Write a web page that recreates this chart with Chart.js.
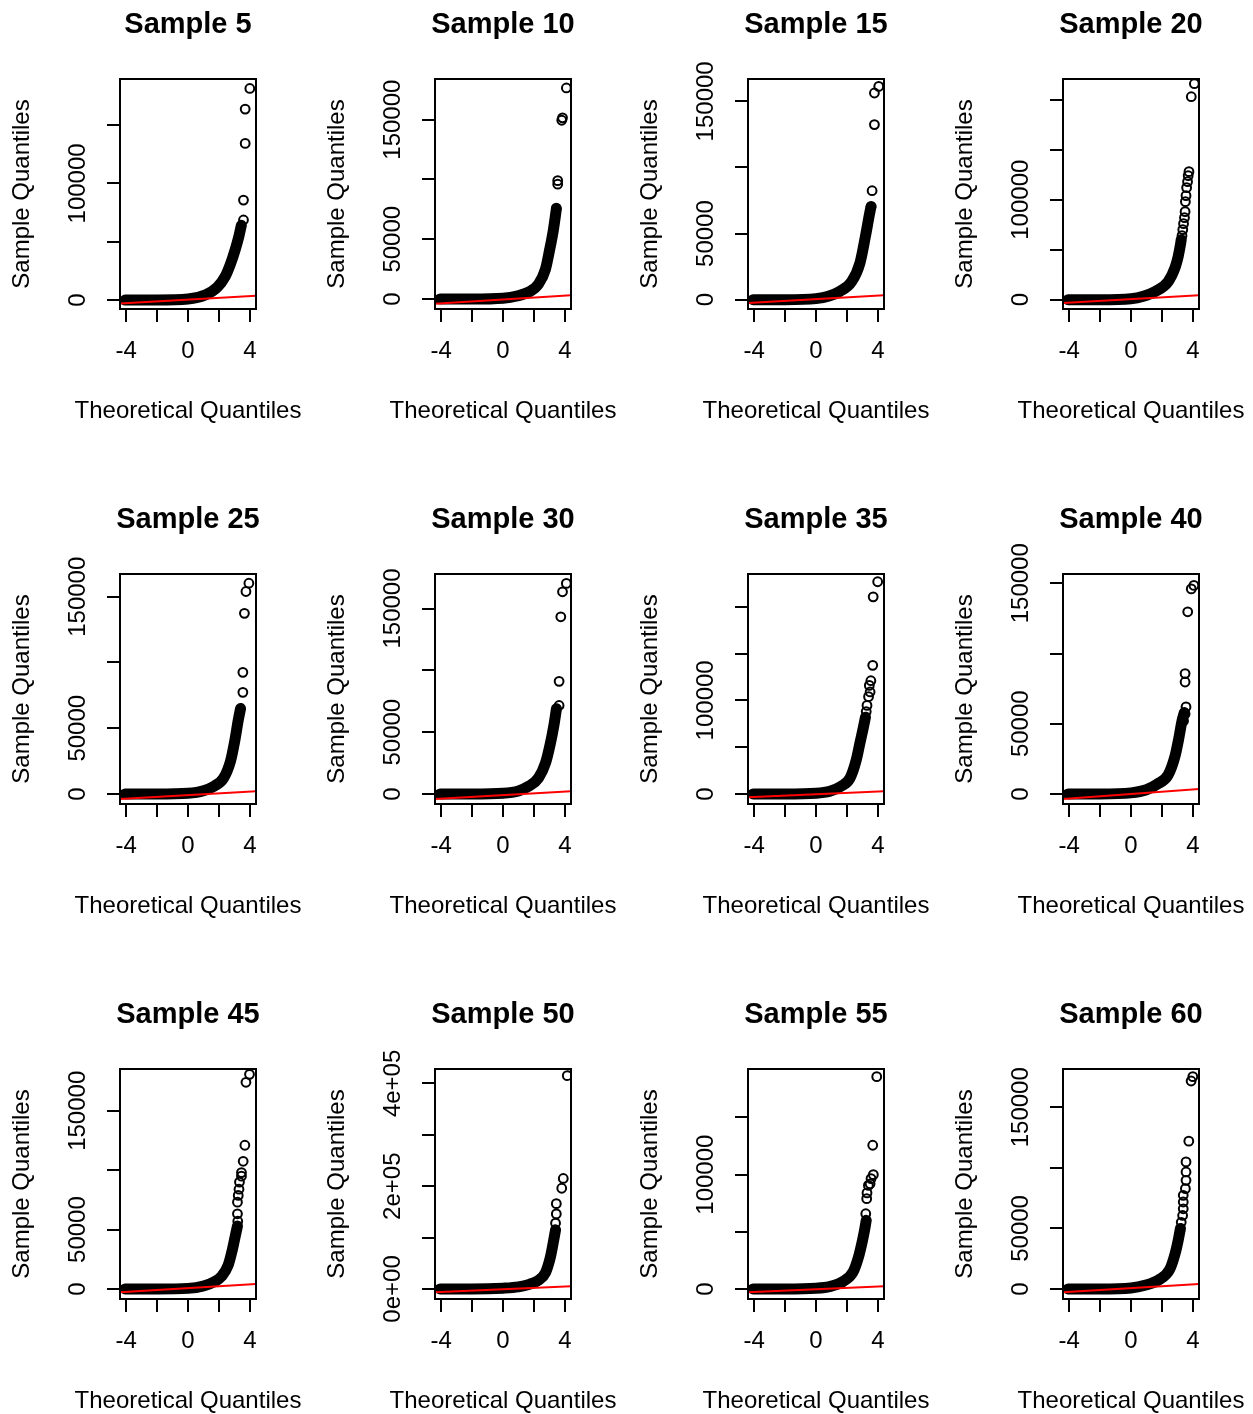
<!DOCTYPE html>
<html>
<head>
<meta charset="utf-8">
<script src="https://cdn.jsdelivr.net/npm/chart.js@4.4.1/dist/chart.umd.min.js"></script>
<style>
  html, body { margin: 0; padding: 0; background: #fff; }
  body { width: 1253px; height: 1414px; position: relative; overflow: hidden; }
  .panel { position: absolute; width: 314px; height: 430px; }
</style>
</head>
<body>
<script>
  'use strict';

  var sampleTitles = ['Sample 5', 'Sample 10', 'Sample 15', 'Sample 20',
    'Sample 25', 'Sample 30', 'Sample 35', 'Sample 40',
    'Sample 45', 'Sample 50', 'Sample 55', 'Sample 60'];

  var xTicks = [-4, -2, 0, 2, 4];
  var xTickLabels = [-4, 0, 4];
  var xLimits = [-4.4, 4.4];

  var yLimits = [
    [-7700, 189500], [-8360, 184000], [-7060, 166900], [-9330, 220700],
    [-7630, 167300], [-8100, 177900], [-10700, 235000], [-7140, 156600],
    [-8440, 185200], [-19500, 428000], [-8770, 192400], [-8280, 181600]
  ];

  var yTicks = [
    [0, 50000, 100000, 150000], [0, 50000, 100000, 150000], [0, 50000, 100000, 150000], [0, 50000, 100000, 150000, 200000],
    [0, 50000, 100000, 150000], [0, 50000, 100000, 150000], [0, 50000, 100000, 150000, 200000], [0, 50000, 100000, 150000],
    [0, 50000, 100000, 150000], [0, 100000, 200000, 300000, 400000], [0, 50000, 100000, 150000], [0, 50000, 100000, 150000]
  ];

  // '' = tick without a printed label (R drops overlapping ones)
  var yTickLabels = [
    ['0', '', '100000', ''], ['0', '50000', '', '150000'], ['0', '50000', '', '150000'], ['0', '', '100000', '', ''],
    ['0', '50000', '', '150000'], ['0', '50000', '', '150000'], ['0', '', '100000', '', ''], ['0', '50000', '', '150000'],
    ['0', '50000', '', '150000'], ['0e+00', '', '2e+05', '', '4e+05'], ['0', '', '100000', ''], ['0', '50000', '', '150000']
  ];

  // qqline value at the left and right edge of the plot
  var qqLineEnds = [
    [-2900, 3700], [-3900, 3100], [-2500, 3300], [-3300, 4300],
    [-3800, 2000], [-4000, 2200], [-3600, 2900], [-3600, 3600],
    [-2800, 4200], [-6500, 5200], [-2900, 2300], [-2800, 4100]
  ];

  // the solid band of overlapping points, [theoretical, sample]
  var denseBodies = [
    [[-4.07, 0], [-2, 0], [0, 800], [1.15, 4500], [1.9, 11000], [2.4, 20000], [2.75, 31000], [3.05, 43000], [3.3, 55000], [3.45, 64000]],
    [[-4.07, 0], [-2, 0], [0, 700], [0.9, 2500], [1.7, 6000], [2.3, 12500], [2.75, 25000], [3.0, 40000], [3.25, 57000], [3.45, 75000]],
    [[-4.07, 0], [-2, 0], [0, 800], [0.8, 2500], [1.5, 6000], [2.3, 13500], [2.85, 28000], [3.2, 48000], [3.45, 64000], [3.55, 70000]],
    [[-4.07, 0], [-2, 0], [0, 1000], [0.8, 3500], [1.6, 8500], [2.4, 18000], [2.85, 32000], [3.05, 43000], [3.2, 55000], [3.25, 60000]],
    [[-4.07, 0], [-2, 0], [0, 600], [1.0, 2500], [1.7, 6000], [2.3, 12000], [2.75, 25000], [3.05, 42000], [3.25, 56000], [3.4, 65000]],
    [[-4.07, 0], [-2, 0], [0, 600], [1.0, 2500], [1.7, 6500], [2.3, 13000], [2.75, 25000], [3.05, 40000], [3.3, 56000], [3.46, 69000]],
    [[-4.07, 0], [-2, 0], [0, 800], [0.9, 3000], [1.6, 8000], [2.2, 17000], [2.6, 36000], [2.85, 55000], [3.05, 70000], [3.2, 82000]],
    [[-4.07, 0], [-2, 0], [0, 800], [1.0, 3000], [1.7, 7000], [2.4, 13500], [2.85, 27000], [3.1, 40000], [3.3, 52000], [3.45, 58000]],
    [[-4.07, 0], [-2, 0], [0, 500], [1.0, 2500], [1.7, 6000], [2.2, 11000], [2.6, 20000], [2.85, 32000], [3.05, 44000], [3.2, 53000]],
    [[-4.07, 0], [-2, 0], [0, 1500], [1.0, 4000], [1.7, 9000], [2.3, 17000], [2.75, 32000], [3.05, 60000], [3.25, 90000], [3.4, 115000]],
    [[-4.07, 0], [-2, 0], [0, 600], [1.0, 2500], [1.8, 7000], [2.4, 15000], [2.75, 28000], [3.0, 42000], [3.15, 52000], [3.25, 60000]],
    [[-4.07, 0], [-2, 0], [0, 800], [0.9, 3000], [1.8, 7500], [2.5, 16000], [2.85, 29000], [3.05, 40000], [3.2, 50000]]
  ];

  // the separate circles in the upper tail
  var outlierPoints = [
    [[4.0, 181400], [3.7, 163700], [3.7, 134300], [3.59, 85700], [3.59, 68600]],
    [[4.1, 176500], [3.85, 151500], [3.8, 149500], [3.54, 99000], [3.54, 96000], [3.45, 76000]],
    [[4.06, 161300], [3.78, 156300], [3.78, 132400], [3.63, 82400], [3.57, 70600]],
    [[4.1, 216000], [3.9, 203000], [3.75, 128000], [3.7, 124000], [3.66, 118000], [3.6, 112000], [3.56, 104000], [3.52, 98000], [3.5, 88000], [3.46, 82000], [3.4, 76000], [3.35, 70000], [3.3, 64000]],
    [[3.94, 160300], [3.75, 154000], [3.65, 137400], [3.55, 92500], [3.55, 77300]],
    [[4.1, 170300], [3.85, 163500], [3.74, 143300], [3.63, 91100], [3.63, 71600]],
    [[3.99, 226700], [3.7, 210600], [3.67, 137400], [3.55, 121000], [3.45, 116000], [3.5, 109000], [3.4, 104000], [3.3, 94600], [3.25, 88000]],
    [[4.07, 148500], [3.9, 146000], [3.67, 129700], [3.5, 85700], [3.5, 79700], [3.56, 62000], [3.5, 57000], [3.4, 52000]],
    [[3.98, 180700], [3.75, 174000], [3.68, 121000], [3.57, 107500], [3.46, 98000], [3.46, 95000], [3.33, 90000], [3.3, 84000], [3.25, 78800], [3.2, 73100], [3.2, 63300], [3.22, 57000]],
    [[4.16, 415000], [3.9, 215000], [3.8, 196000], [3.45, 166000], [3.45, 146000], [3.4, 128000]],
    [[3.93, 185700], [3.67, 125700], [3.71, 100000], [3.56, 96500], [3.5, 92000], [3.39, 90600], [3.3, 84000], [3.28, 79000], [3.22, 65800]],
    [[4.0, 175300], [3.89, 171700], [3.74, 122000], [3.56, 104900], [3.56, 96600], [3.56, 89700], [3.52, 82800], [3.38, 77300], [3.38, 71800], [3.38, 66200], [3.34, 60700], [3.25, 55000]]
  ];

  var FONT = '"Liberation Sans", Arial, sans-serif';
  var colLefts = [0, 315, 628, 943];
  var rowTops = [0, 495, 990];

  function toPoint(pair) {
    return { x: pair[0], y: pair[1] };
  }

  // box, rotated y labels, x title and bold main title, placed like R's base graphics
  var qqFrame = {
    id: 'qqFrame',
    afterDraw: function (chart, args, opts) {
      var ctx = chart.ctx;
      var area = chart.chartArea;
      var yScale = chart.scales.y;
      var midX = (area.left + area.right) / 2;
      ctx.save();
      ctx.strokeStyle = '#000';
      ctx.lineWidth = 2;
      ctx.strokeRect(area.left, area.top, area.right - area.left, area.bottom - area.top);

      ctx.fillStyle = '#000';
      ctx.textAlign = 'center';
      ctx.textBaseline = 'middle';
      ctx.font = '24px ' + FONT;
      opts.ticks.forEach(function (value, i) {
        var text = opts.labels[i];
        if (!text) return;
        ctx.save();
        ctx.translate(area.left - 42, yScale.getPixelForValue(value));
        ctx.rotate(-Math.PI / 2);
        ctx.fillText(text, 0, 0);
        ctx.restore();
      });

      ctx.fillText('Theoretical Quantiles', midX, area.bottom + 102);

      ctx.font = 'bold 29px ' + FONT;
      ctx.fillText(opts.title, midX, area.top - 54);
      ctx.restore();
    }
  };

  function renderPanel(i) {
    var holder = document.createElement('div');
    holder.className = 'panel';
    holder.style.left = colLefts[i % 4] + 'px';
    holder.style.top = rowTops[Math.floor(i / 4)] + 'px';
    var canvas = document.createElement('canvas');
    canvas.width = 314;
    canvas.height = 430;
    holder.appendChild(canvas);
    document.body.appendChild(holder);

    var axisGrid = { drawOnChartArea: false, drawTicks: true, tickLength: 13, color: '#000', lineWidth: 2 };

    new Chart(canvas, {
      type: 'scatter',
      data: {
        datasets: [{
          data: [{ x: xLimits[0], y: qqLineEnds[i][0] }, { x: xLimits[1], y: qqLineEnds[i][1] }],
          showLine: true,
          borderColor: '#ff0000',
          borderWidth: 2,
          pointRadius: 0
        }, {
          data: denseBodies[i].map(toPoint),
          showLine: true,
          borderColor: '#000',
          borderWidth: 11,
          borderCapStyle: 'round',
          borderJoinStyle: 'round',
          cubicInterpolationMode: 'monotone',
          pointRadius: 0
        }, {
          data: outlierPoints[i].map(toPoint),
          showLine: false,
          pointRadius: 4.4,
          borderWidth: 2,
          borderColor: '#000',
          backgroundColor: 'rgba(0,0,0,0)'
        }]
      },
      options: {
        responsive: false,
        animation: false,
        devicePixelRatio: 1,
        events: [],
        layout: { padding: { left: 0, top: 79, right: 58, bottom: 0 } },
        plugins: {
          legend: { display: false },
          tooltip: { enabled: false },
          qqFrame: { title: sampleTitles[i], ticks: yTicks[i], labels: yTickLabels[i] }
        },
        scales: {
          x: {
            type: 'linear',
            position: 'bottom',
            min: xLimits[0],
            max: xLimits[1],
            afterBuildTicks: function (scale) {
              scale.ticks = xTicks.map(function (v) { return { value: v }; });
            },
            afterFit: function (scale) { scale.height = 121; },
            grid: axisGrid,
            border: { display: false },
            ticks: {
              autoSkip: false,
              maxRotation: 0,
              padding: 15,
              color: '#000',
              font: { family: FONT, size: 24 },
              callback: function (value) {
                return xTickLabels.indexOf(value) >= 0 ? String(value) : '';
              }
            },
            title: { display: false }
          },
          y: {
            type: 'linear',
            min: yLimits[i][0],
            max: yLimits[i][1],
            afterBuildTicks: function (scale) {
              scale.ticks = yTicks[i].map(function (v) { return { value: v }; });
            },
            afterFit: function (scale) { scale.width = 120; },
            grid: axisGrid,
            border: { display: false },
            ticks: { display: false },
            title: {
              display: true,
              text: 'Sample Quantiles',
              color: '#000',
              font: { family: FONT, size: 24, lineHeight: 1.2 },
              padding: { top: 8, bottom: 0 }
            }
          }
        }
      },
      plugins: [qqFrame]
    });
  }

  document.addEventListener('DOMContentLoaded', function () {
    for (var i = 0; i < sampleTitles.length; i++) {
      renderPanel(i);
    }
  });
</script>
</body>
</html>
